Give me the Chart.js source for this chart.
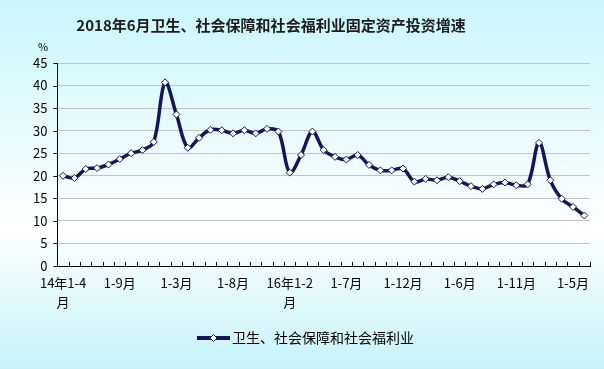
<!DOCTYPE html>
<html>
<head>
<meta charset="utf-8">
<script src="https://cdn.jsdelivr.net/npm/chart.js@4.4.1/dist/chart.umd.min.js"></script>
<style>
    html, body { margin: 0; padding: 0; }
    body { width: 604px; height: 369px; overflow: hidden; }
    #wrap { position: relative; width: 604px; height: 369px; }
</style>
</head>
<body>
<div id="wrap"><canvas id="chart" width="604" height="369"></canvas></div>
<script>
// Data
const chartTitle = '2018年6月卫生、社会保障和社会福利业固定资产投资增速';
const seriesName = '卫生、社会保障和社会福利业';
const unitLabel = '%';

const months = [
    '14-1-4', '14-1-5', '14-1-6', '14-1-7', '14-1-8', '14-1-9', '14-1-10', '14-1-11', '14-1-12',
    '15-1-2', '15-1-3', '15-1-4', '15-1-5', '15-1-6', '15-1-7', '15-1-8', '15-1-9', '15-1-10', '15-1-11', '15-1-12',
    '16-1-2', '16-1-3', '16-1-4', '16-1-5', '16-1-6', '16-1-7', '16-1-8', '16-1-9', '16-1-10', '16-1-11', '16-1-12',
    '17-1-2', '17-1-3', '17-1-4', '17-1-5', '17-1-6', '17-1-7', '17-1-8', '17-1-9', '17-1-10', '17-1-11', '17-1-12',
    '18-1-2', '18-1-3', '18-1-4', '18-1-5', '18-1-6'
];

const growth = [
    20.0, 19.5, 21.5, 21.7, 22.5, 23.7, 25.0, 25.7, 27.5,
    40.7, 33.6, 26.2, 28.4, 30.2, 30.1, 29.4, 30.1, 29.4, 30.4, 29.8,
    20.7, 24.6, 29.8, 25.7, 24.2, 23.6, 24.6, 22.4, 21.2, 21.2, 21.6,
    18.7, 19.3, 19.0, 19.7, 18.8, 17.7, 17.1, 18.1, 18.5, 17.9, 18.1,
    27.3, 19.0, 14.9, 13.1, 11.2
];

// tick labels shown on the x axis (by category index)
const xTickLabels = {
    0: ['14年1-4', '月'],
    5: '1-9月',
    10: '1-3月',
    15: '1-8月',
    20: ['16年1-2', '月'],
    25: '1-7月',
    30: '1-12月',
    35: '1-6月',
    40: '1-11月',
    45: '1-5月'
};

const yMin = 0;
const yMax = 45;
const yStep = 5;

const lineColor = '#15155f';
const fontFamily = '"Noto Sans CJK SC", "Noto Sans", sans-serif';

// Background gradient, inside-ticks, title, unit and legend
const decorPlugin = {
    id: 'decor',
    beforeDraw(chart) {
        const { ctx, width, height } = chart;
        const g = ctx.createLinearGradient(0, 0, 0, height);
        g.addColorStop(0, '#c9f6fc');
        g.addColorStop(0.62, '#ffffff');
        g.addColorStop(1, '#c6f3fa');
        ctx.save();
        ctx.fillStyle = g;
        ctx.fillRect(0, 0, width, height);
        ctx.restore();
    },
    afterDraw(chart) {
        const { ctx, chartArea } = chart;
        const xs = chart.scales.x;
        const ys = chart.scales.y;
        ctx.save();

        // x ticks pointing up into the plot
        ctx.strokeStyle = '#000';
        ctx.lineWidth = 1;
        const step = xs.getPixelForValue(1) - xs.getPixelForValue(0);
        ctx.beginPath();
        for (let i = 0; i <= months.length; i++) {
            const px = Math.round(xs.getPixelForValue(i) - step / 2) + 0.5;
            ctx.moveTo(px, chartArea.bottom);
            ctx.lineTo(px, chartArea.bottom - 4);
        }
        // y ticks pointing left
        for (let v = yMin; v <= yMax; v += yStep) {
            const py = Math.round(ys.getPixelForValue(v)) + 0.5;
            ctx.moveTo(chartArea.left, py);
            ctx.lineTo(chartArea.left - 4, py);
        }
        ctx.stroke();

        // title
        ctx.fillStyle = '#1c1c1c';
        ctx.font = 'bold 15px ' + fontFamily;
        ctx.textAlign = 'center';
        ctx.textBaseline = 'middle';
        ctx.fillText(chartTitle, 271, 25);

        // unit
        ctx.font = '11px ' + fontFamily;
        ctx.fillStyle = '#000';
        ctx.fillText(unitLabel, 43, 47);

        // legend
        const ly = 338;
        ctx.strokeStyle = lineColor;
        ctx.lineWidth = 4;
        ctx.beginPath();
        ctx.moveTo(197, ly);
        ctx.lineTo(230, ly);
        ctx.stroke();
        ctx.fillStyle = '#fff';
        ctx.lineWidth = 1;
        ctx.beginPath();
        ctx.moveTo(213.5, ly - 3.5);
        ctx.lineTo(217, ly);
        ctx.lineTo(213.5, ly + 3.5);
        ctx.lineTo(210, ly);
        ctx.closePath();
        ctx.fill();
        ctx.stroke();
        ctx.fillStyle = '#000';
        ctx.font = '14px ' + fontFamily;
        ctx.textAlign = 'left';
        ctx.fillText(seriesName, 232, ly);

        ctx.restore();
    }
};

const ctx = document.getElementById('chart').getContext('2d');

new Chart(ctx, {
    type: 'line',
    data: {
        labels: months,
        datasets: [{
            label: seriesName,
            data: growth,
            borderColor: lineColor,
            borderWidth: 3.5,
            tension: 0.35,
            pointStyle: 'rectRot',
            pointRadius: 3.5,
            pointBackgroundColor: '#ffffff',
            pointBorderColor: lineColor,
            pointBorderWidth: 1,
            fill: false
        }]
    },
    options: {
        responsive: false,
        animation: false,
        devicePixelRatio: 1,
        layout: {
            padding: { top: 63, left: 23, right: 14, bottom: 50 }
        },
        plugins: {
            legend: { display: false },
            title: { display: false },
            tooltip: { enabled: false }
        },
        scales: {
            x: {
                offset: true,
                grid: { display: false, drawTicks: false },
                border: { display: true, color: '#000', width: 1 },
                ticks: {
                    autoSkip: false,
                    maxRotation: 0,
                    minRotation: 0,
                    padding: 7,
                    color: '#000',
                    font: { family: fontFamily, size: 13, lineHeight: 1.5 },
                    callback: (value, index) => xTickLabels[index] !== undefined ? xTickLabels[index] : ''
                }
            },
            y: {
                min: yMin,
                max: yMax,
                grid: { color: '#c3c3c3', lineWidth: 1, drawTicks: false },
                border: { display: true, color: '#000', width: 1 },
                ticks: {
                    stepSize: yStep,
                    padding: 10,
                    color: '#000',
                    font: { family: fontFamily, size: 13 }
                }
            }
        }
    },
    plugins: [decorPlugin]
});
</script>
</body>
</html>
